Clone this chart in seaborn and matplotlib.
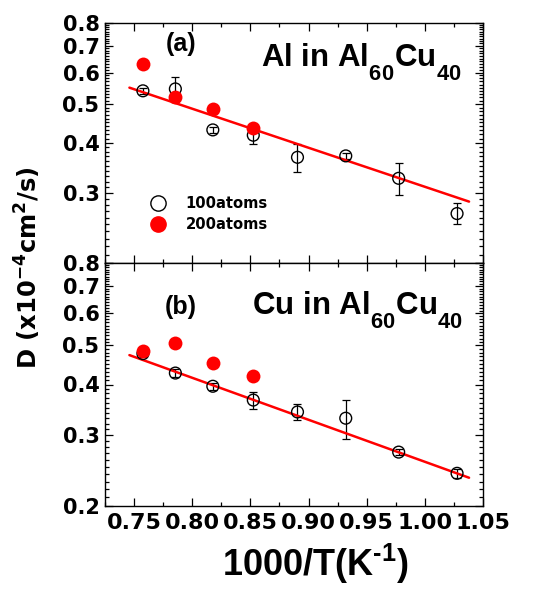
import numpy as np
import pandas as pd
import matplotlib
matplotlib.use("Agg")
import matplotlib.pyplot as plt
from matplotlib.ticker import FixedLocator, NullFormatter, FixedFormatter, MultipleLocator
from matplotlib.lines import Line2D
import seaborn as sns

try:
    import matplotlib._mathtext as _mt
    _mt.FontConstantsBase.sub1 = 0.85
except Exception:
    pass

# ---------------- data ----------------
x_100 = [0.7576, 0.7855, 0.8177, 0.8525, 0.8905, 0.9320, 0.9775, 1.0277]
x_200 = [0.7576, 0.7855, 0.8177, 0.8525]

al_100 = [0.540, 0.546, 0.431, 0.418, 0.368, 0.371, 0.326, 0.266]
al_100_err = [0.010, 0.040, 0.008, 0.020, 0.030, 0.007, 0.030, 0.016]
al_200 = [0.630, 0.520, 0.486, 0.435]
al_fit_x = [0.746, 1.038]
al_fit_y = [0.550, 0.285]

cu_100 = [0.477, 0.427, 0.396, 0.366, 0.342, 0.330, 0.272, 0.241]
cu_100_err = [0.008, 0.010, 0.008, 0.018, 0.016, 0.037, 0.005, 0.006]
cu_200 = [0.485, 0.506, 0.451, 0.420]
cu_fit_x = [0.746, 1.038]
cu_fit_y = [0.473, 0.235]

y_major = [0.2, 0.3, 0.4, 0.5, 0.6, 0.7, 0.8]
y_minor = [round(0.2 + 0.01 * i, 2) for i in range(61)]
x_ticks = [0.75, 0.80, 0.85, 0.90, 0.95, 1.00, 1.05]
series_labels = ["100atoms", "200atoms"]

# ---------------- style ----------------
sns.set_style("ticks")
plt.rcParams['font.family'] = ['Liberation Sans', 'DejaVu Sans']
plt.rcParams['font.weight'] = 'bold'
plt.rcParams['mathtext.fontset'] = 'custom'
plt.rcParams['mathtext.rm'] = 'Liberation Sans:bold'
plt.rcParams['mathtext.bf'] = 'Liberation Sans:bold'
plt.rcParams['mathtext.it'] = 'Liberation Sans:bold'
plt.rcParams['mathtext.default'] = 'bf'
for k in ['text.color', 'axes.labelcolor', 'xtick.color', 'ytick.color', 'axes.edgecolor']:
    plt.rcParams[k] = 'black'

fig = plt.figure(figsize=(5.39, 5.92), dpi=100)
L, R = 105 / 539, 483 / 539
top_t, mid, bot = 1 - 22.7 / 592, 1 - 263 / 592, 1 - 506 / 592
ax1 = fig.add_axes([L, mid, R - L, top_t - mid])
ax2 = fig.add_axes([L, bot, R - L, mid - bot])


def panel(ax, d100, err, d200, fx, fy, show_low_label):
    df100 = pd.DataFrame({"x": x_100, "y": d100})
    df200 = pd.DataFrame({"x": x_200, "y": d200})
    dfit = pd.DataFrame({"x": fx, "y": fy})
    ax.set_yscale("log")
    ax.errorbar(x_100, d100, yerr=err, fmt="none", ecolor="black",
                elinewidth=0.9, capsize=3, capthick=0.9, zorder=2)
    sns.lineplot(data=dfit, x="x", y="y", ax=ax, color="red", lw=1.8, zorder=3)
    sns.scatterplot(data=df100, x="x", y="y", ax=ax, marker="o", s=72,
                    facecolor="none", edgecolor="black", linewidth=1.0, zorder=4)
    sns.scatterplot(data=df200, x="x", y="y", ax=ax, marker="o", s=100,
                    color="red", edgecolor="red", linewidth=0, zorder=5)
    ax.set_xlim(0.725, 1.05)
    ax.set_ylim(0.2, 0.8)
    ax.yaxis.set_major_locator(FixedLocator(y_major))
    labels = ["%.1f" % v for v in y_major]
    if not show_low_label:
        labels[0] = ""
    ax.yaxis.set_major_formatter(FixedFormatter(labels))
    ax.yaxis.set_minor_locator(FixedLocator(y_minor))
    ax.yaxis.set_minor_formatter(NullFormatter())
    ax.xaxis.set_major_locator(FixedLocator(x_ticks))
    ax.xaxis.set_minor_locator(MultipleLocator(0.025))
    ax.tick_params(which="both", direction="in", top=True, right=True, width=0.9)
    ax.tick_params(which="major", length=6)
    ax.tick_params(which="minor", length=3)
    ax.tick_params(axis="y", labelsize=15, pad=4)
    ax.tick_params(axis="x", labelsize=16, pad=5)
    for s in ax.spines.values():
        s.set_linewidth(1.0)
        s.set_color("black")
    ax.set_xlabel("")
    ax.set_ylabel("")
    for t in ax.get_xticklabels() + ax.get_yticklabels():
        t.set_fontweight("bold")
        t.set_fontfamily("DejaVu Sans")


panel(ax1, al_100, al_100_err, al_200, al_fit_x, al_fit_y, False)
panel(ax2, cu_100, cu_100_err, cu_200, cu_fit_x, cu_fit_y, True)
ax1.tick_params(axis="x", labelbottom=False)

ax1.text(0.20, 0.91, "(a)", transform=ax1.transAxes, fontsize=18,
         fontweight="bold", ha="center", va="center")
ax1.text(0.413, 0.816, "Al in Al$_{60}$Cu$_{40}$", transform=ax1.transAxes,
         fontsize=22.5, fontweight="bold", ha="left", va="baseline")
ax2.text(0.20, 0.82, "(b)", transform=ax2.transAxes, fontsize=18,
         fontweight="bold", ha="center", va="center")
ax2.text(0.39, 0.786, "Cu in Al$_{60}$Cu$_{40}$", transform=ax2.transAxes,
         fontsize=22.5, fontweight="bold", ha="left", va="baseline")

handles = [Line2D([], [], marker="o", ls="none", markersize=11, markerfacecolor="none",
                  markeredgecolor="black", markeredgewidth=1.0),
           Line2D([], [], marker="o", ls="none", markersize=11, markerfacecolor="red",
                  markeredgecolor="red")]
ax1.legend(handles, series_labels, loc="upper left",
           bbox_to_anchor=(0.065, 0.335), frameon=False, handletextpad=0.9,
           labelspacing=0.45, prop={"family": "DejaVu Sans", "weight": "bold", "size": 10.6})

fig.text(0.052, 0.548, "D (x10$^{-4}$cm$^{2}$/s)", rotation=90, fontsize=17.5,
         fontweight="bold", family="DejaVu Sans", math_fontfamily="dejavusans",
         ha="center", va="center")
fig.text(0.585, 0.047, "1000/T(K$^{\\text{-}1}$)", fontsize=26, fontweight="bold",
         ha="center", va="center")

fig.savefig("out.png", dpi=100)
